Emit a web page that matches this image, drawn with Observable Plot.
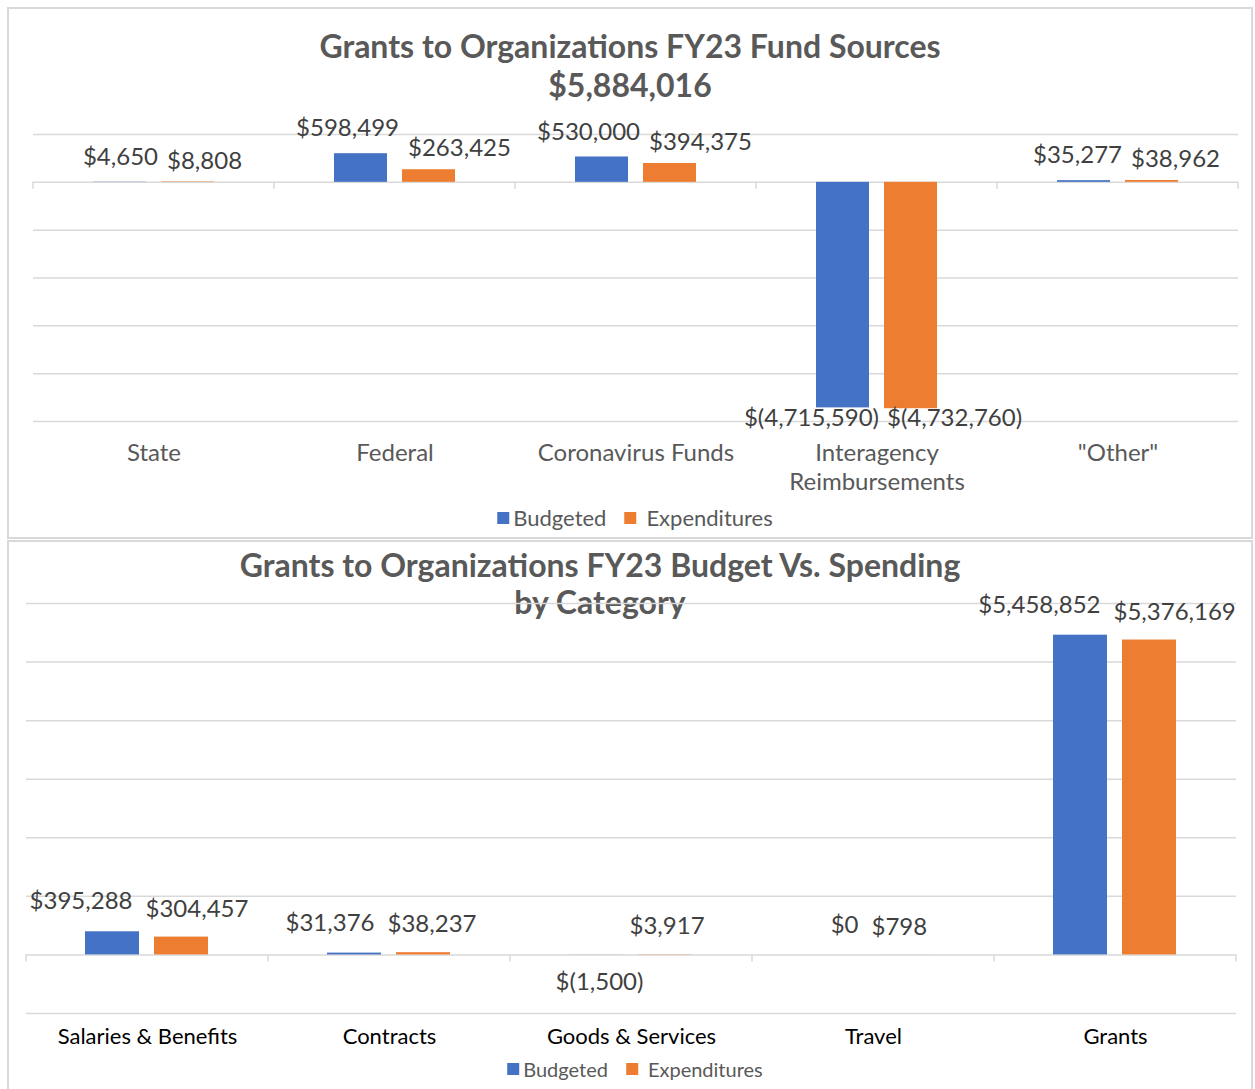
<!DOCTYPE html>
<html><head><meta charset="utf-8">
<script src="https://cdn.jsdelivr.net/npm/d3@7"></script>
<script src="https://cdn.jsdelivr.net/npm/@observablehq/plot@0.6"></script>
<style>
body{margin:0;background:#fff;font-family:Lato,sans-serif;width:1255px;height:1089px;position:relative;overflow:hidden}
.panel{position:absolute;box-sizing:border-box;border:2px solid #d9d9d9;background:#fff}
.title{position:absolute;font-weight:bold;color:#595959;font-size:32px;line-height:32px;white-space:nowrap;transform:translateX(-50%)}
.legend{position:absolute;color:#595959;white-space:nowrap;display:flex;align-items:center;transform:translateX(-50%);line-height:22px}
.sw{display:inline-block;width:12px;height:12px;margin-right:4px}
.chart{position:absolute;left:0}
</style></head><body>
<div class="panel" style="left:7px;top:7px;width:1246px;height:532px"></div>
<div class="panel" style="left:7px;top:540px;width:1246px;height:570px"></div>
<div id="t1a" class="title" style="left:630px;top:30px"></div>
<div id="t1b" class="title" style="left:630px;top:69px"></div>
<div id="c1" class="chart" style="top:110px"></div>
<div id="l1" class="legend" style="left:635px;top:507px;font-size:22px"></div>
<div id="t2a" class="title" style="left:600px;top:549px"></div>
<div id="t2b" class="title" style="left:600px;top:586px"></div>
<div id="c2" class="chart" style="top:580px"></div>
<div id="l2" class="legend" style="left:635px;top:1058px;font-size:20px"></div>
<script>
// ---- Data ----
const seriesNames = ["Budgeted", "Expenditures"];
const seriesColors = ["#4472c4", "#ed7d31"];

const fundTitle = "Grants to Organizations FY23 Fund Sources";
const fundTotal = "$5,884,016";
const fundCategories = ["State", "Federal", "Coronavirus Funds", "Interagency Reimbursements", "\"Other\""];
const fundTickLabels = ["State", "Federal", "Coronavirus Funds", "Interagency\nReimbursements", "\"Other\""];
const fundBudgeted = [4650, 598499, 530000, -4715590, 35277];
const fundExpenditures = [8808, 263425, 394375, -4732760, 38962];
const fundGrid = [1000000, 0, -1000000, -2000000, -3000000, -4000000, -5000000];

const catTitle1 = "Grants to Organizations FY23 Budget Vs. Spending";
const catTitle2 = "by Category";
const catCategories = ["Salaries & Benefits", "Contracts", "Goods & Services", "Travel", "Grants"];
const catBudgeted = [395288, 31376, -1500, 0, 5458852];
const catExpenditures = [304457, 38237, 3917, 798, 5376169];
const catGrid = [6000000, 5000000, 4000000, 3000000, 2000000, 1000000, 0, -1000000];

// ---- Helpers ----
const num = d3.format(",");
const money = v => v < 0 ? `$(${num(-v)})` : `$${num(v)}`;

function rows(cats, b, e) {
  const out = [];
  cats.forEach((c, i) => {
    out.push({cat: c, series: seriesNames[0], value: b[i]});
    out.push({cat: c, series: seriesNames[1], value: e[i]});
  });
  return out;
}

function chart(o) {
  const data = rows(o.cats, o.b, o.e);
  // label placement: [textAnchor, dx, dy] per series, for positive and negative values
  const lab = (series, pos, [anchor, dx, dy]) => Plot.text(data.filter(d => d.series === series && (pos ? d.value >= 0 : d.value < 0)), {
    fx: "cat", x: "series", y: "value", text: d => money(d.value), textAnchor: anchor, dx, dy,
    fill: o.labelColor, fontSize: 24
  });
  const plot = Plot.plot({
    width: 1255, height: o.height,
    marginTop: o.mt, marginBottom: o.mb, marginLeft: o.ml, marginRight: o.mr,
    style: {fontFamily: "Lato", fontSize: "20px", background: "transparent", overflow: "visible"},
    fx: {domain: o.cats, padding: 0, axis: null},
    x: {domain: seriesNames, paddingInner: 0.217, paddingOuter: 0.855, axis: null},
    y: {domain: o.yDomain, axis: null},
    color: {domain: seriesNames, range: seriesColors},
    marks: [
      Plot.ruleY(o.grid, {stroke: "#d9d9d9", strokeWidth: 1.5}),
      Plot.barY(data, {fx: "cat", x: "series", y: "value", fill: "series"}),
      lab(seriesNames[0], true, o.posB),
      lab(seriesNames[1], true, o.posE),
      lab(seriesNames[0], false, o.negB),
      lab(seriesNames[1], false, o.negE),
      Plot.axisFx({anchor: "bottom", tickSize: 0, tickPadding: o.tickPad, label: null,
        tickFormat: d => o.tickLabels[o.cats.indexOf(d)], fill: o.axisColor, color: o.axisColor,
        fontSize: o.axisFont, lineHeight: o.lineHeight})
    ]
  });
  // category boundary tick marks on the zero line, from the library's scales
  const fx = plot.scale("fx"), y = plot.scale("y");
  const step = fx.step || (fx.range[1] - fx.range[0]) / o.cats.length;
  const xs = o.cats.map(c => fx.apply(c));
  xs.push(xs[xs.length - 1] + step);
  const y0 = y.apply(0);
  d3.select(plot).append("g").selectAll("line").data(xs).join("line")
    .attr("x1", d => d).attr("x2", d => d).attr("y1", y0).attr("y2", y0 + 7)
    .attr("stroke", "#d9d9d9").attr("stroke-width", 1.5);
  return plot;
}

function legend(el) {
  el.innerHTML = `<span class="sw" style="background:${seriesColors[0]}"></span><span>${seriesNames[0]}</span>` +
    `<span class="sw" style="background:${seriesColors[1]};margin-left:18px;margin-right:10px"></span><span>${seriesNames[1]}</span>`;
}

document.getElementById("t1a").textContent = fundTitle;
document.getElementById("t1b").textContent = fundTotal;
document.getElementById("t2a").textContent = catTitle1;
document.getElementById("t2b").textContent = catTitle2;

document.getElementById("c1").append(chart({
  cats: fundCategories, tickLabels: fundTickLabels, b: fundBudgeted, e: fundExpenditures,
  grid: fundGrid, yDomain: [-5000000, 1000000],
  height: 400, mt: 24, mb: 89, ml: 32, mr: 17,
  labelColor: "#404040", axisColor: "#595959", axisFont: 24, tickPad: 19, lineHeight: 1.2,
  posB: ["end", 38, -25], posE: ["start", -21, -21], negB: ["end", 36, 10], negE: ["start", -24, 10]
}));
document.getElementById("c2").append(chart({
  cats: catCategories, tickLabels: catCategories, b: catBudgeted, e: catExpenditures,
  grid: catGrid, yDomain: [-1000000, 6000000],
  height: 480, mt: 23, mb: 47, ml: 25, mr: 19,
  labelColor: "#404040", axisColor: "#000000", axisFont: 22, tickPad: 12, lineHeight: 1.2,
  posB: ["end", 20, -30], posE: ["start", -36, -28], negB: ["middle", 3, 27], negE: ["middle", -6, 27]
}));
legend(document.getElementById("l1"));
legend(document.getElementById("l2"));
</script>
</body></html>
